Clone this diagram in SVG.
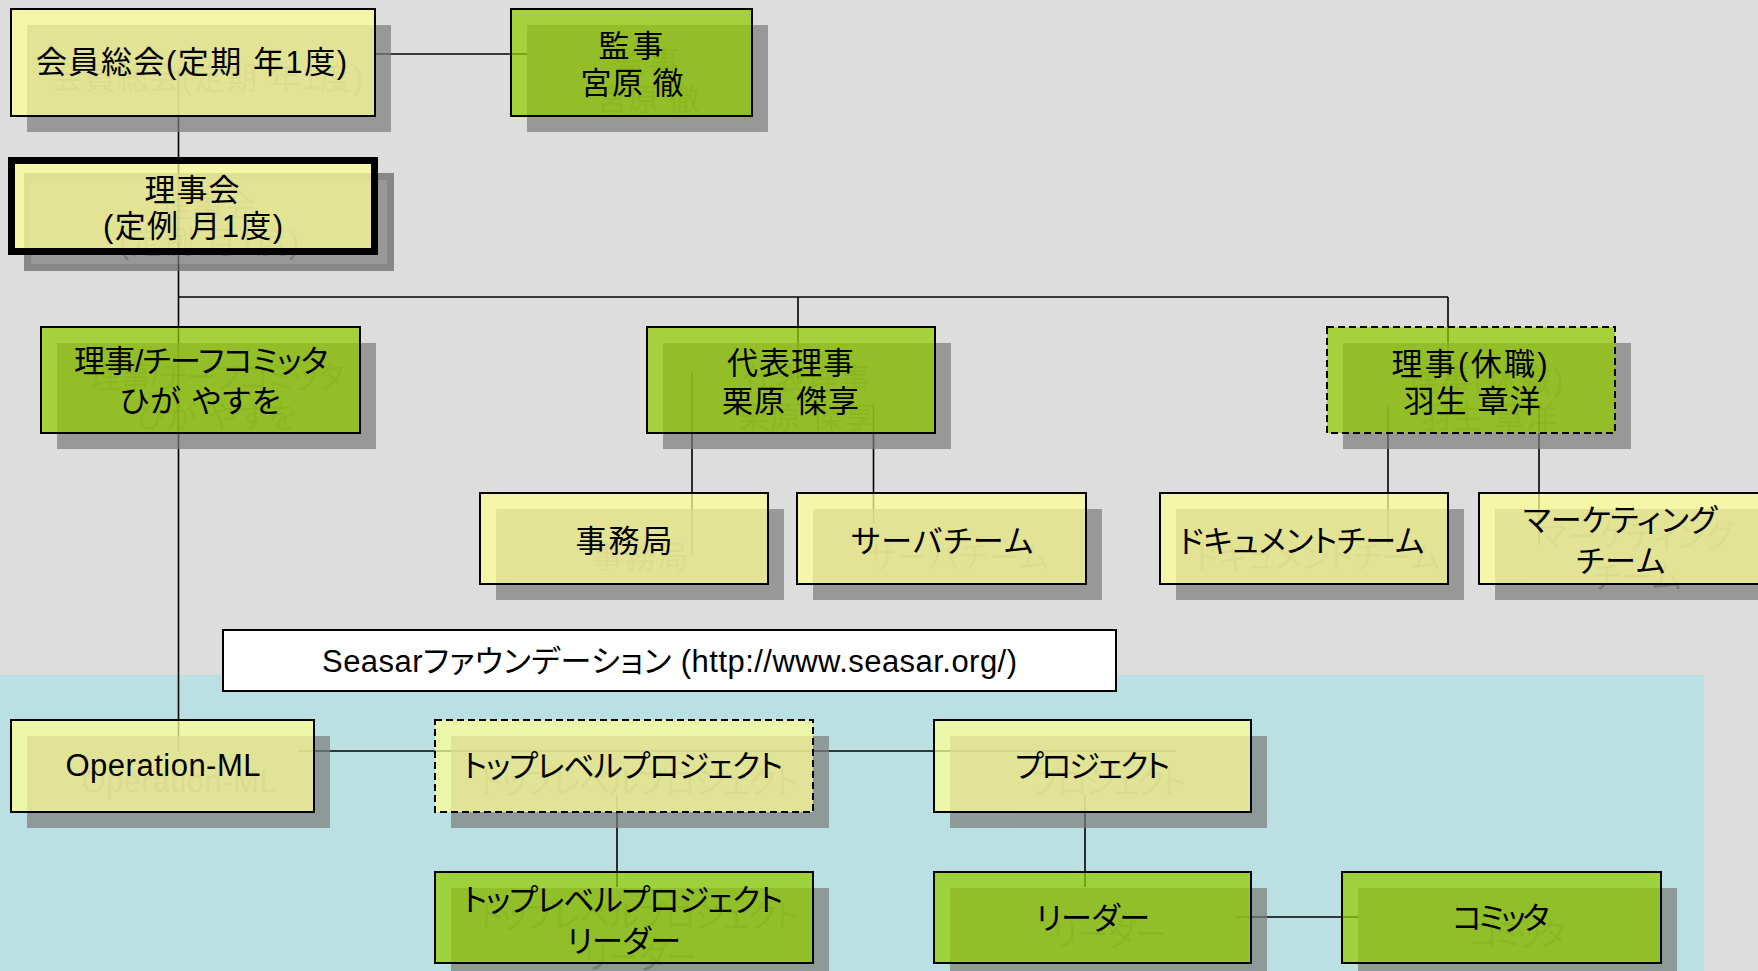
<svg xmlns="http://www.w3.org/2000/svg" xmlns:xlink="http://www.w3.org/1999/xlink" width="1758" height="971" viewBox="0 0 1758 971">
<style>
.node{fill:#000}
.sh{opacity:.71;fill:#555555}
.shr{fill:#7d7d7d}
.by{fill:#ffff95;fill-opacity:.735;stroke:#000;stroke-width:2}
.bg{fill:#92cd00;fill-opacity:.735;stroke:#000;stroke-width:2}
.dash{stroke-dasharray:7 4}
.t{font-family:"Liberation Sans","Noto Sans CJK JP",sans-serif;font-size:31px;text-anchor:middle;font-feature-settings:"palt"}
.lt{font-size:31px}
.cn line{stroke:#000;stroke-width:1.6;fill:none}
</style>
<rect x="0" y="0" width="1758" height="971" fill="#dddddd"/>
<rect x="0" y="675" width="1704" height="296" fill="#bae0e3"/>

<g id="connectors" class="cn">
  <line x1="375" y1="54" x2="527" y2="54"/>
  <line x1="178.5" y1="67" x2="178.5" y2="751"/>
  <line x1="178.5" y1="297" x2="1448" y2="297"/>
  <line x1="798" y1="297" x2="798" y2="380"/>
  <line x1="1448" y1="297" x2="1448" y2="380"/>
  <line x1="692" y1="372" x2="692" y2="555"/>
  <line x1="873.5" y1="403" x2="873.5" y2="523"/>
  <line x1="1388" y1="405" x2="1388" y2="545"/>
  <line x1="1539" y1="405" x2="1539" y2="545"/>
  <line x1="298" y1="751" x2="1176" y2="751"/>
  <line x1="617" y1="795" x2="617" y2="887"/>
  <line x1="1085" y1="795" x2="1085" y2="887"/>
  <line x1="1236" y1="917" x2="1358" y2="917"/>
</g>

<g id="n1" class="node">
  <g class="sh" transform="translate(16,16)"><rect class="shr" x="11" y="9" width="364" height="107"/><use xlink:href="#n1t"/></g>
  <rect class="by" x="11" y="9" width="364" height="107"/>
  <g id="n1t" class="t"><text x="191.5" y="73" textLength="311">会員総会(定期 年1度)</text></g>
</g>

<g id="n2" class="node">
  <g class="sh" transform="translate(16,16)"><rect class="shr" x="511" y="9" width="241" height="107"/><use xlink:href="#n2t"/></g>
  <rect class="bg" x="511" y="9" width="241" height="107"/>
  <g id="n2t" class="t"><text x="631" y="56.5" textLength="65">監事</text><text x="632" y="93.5" textLength="103">宮原 徹</text></g>
</g>

<g id="n3" class="node">
  <g class="sh" transform="translate(16,16)"><rect class="shr" x="11.5" y="160.5" width="363" height="91" stroke="#656565" stroke-width="7"/><use xlink:href="#n3t"/></g>
  <rect class="by" x="11.5" y="160.5" width="363" height="91" style="stroke-width:7"/>
  <g id="n3t" class="t"><text x="192" y="201" textLength="95">理事会</text><text x="193" y="237" textLength="180">(定例 月1度)</text></g>
</g>

<g id="n4" class="node">
  <g class="sh" transform="translate(16,16)"><rect class="shr" x="41" y="327" width="319" height="106"/><use xlink:href="#n4t"/></g>
  <rect class="bg" x="41" y="327" width="319" height="106"/>
  <g id="n4t" class="t"><text x="201" y="372" textLength="254">理事/チーフコミッタ</text><text x="200" y="411.5" textLength="161">ひが やすを</text></g>
</g>

<g id="n5" class="node">
  <g class="sh" transform="translate(16,16)"><rect class="shr" x="647" y="327" width="288" height="106"/><use xlink:href="#n5t"/></g>
  <rect class="bg" x="647" y="327" width="288" height="106"/>
  <g id="n5t" class="t"><text x="790.5" y="373.5" textLength="127">代表理事</text><text x="790.5" y="412" textLength="137">栗原 傑享</text></g>
</g>

<g id="n6" class="node">
  <g class="sh" transform="translate(16,16)"><rect class="shr" x="1327" y="327" width="288" height="106"/><use xlink:href="#n6t"/></g>
  <rect class="bg dash" x="1327" y="327" width="288" height="106"/>
  <g id="n6t" class="t"><text x="1469.5" y="375" textLength="156">理事(休職)</text><text x="1472" y="412" textLength="137">羽生 章洋</text></g>
</g>

<g id="n7" class="node">
  <g class="sh" transform="translate(16,16)"><rect class="shr" x="480" y="493" width="288" height="91"/><use xlink:href="#n7t"/></g>
  <rect class="by" x="480" y="493" width="288" height="91"/>
  <g id="n7t" class="t"><text x="624" y="552" textLength="97">事務局</text></g>
</g>

<g id="n8" class="node">
  <g class="sh" transform="translate(16,16)"><rect class="shr" x="797" y="493" width="289" height="91"/><use xlink:href="#n8t"/></g>
  <rect class="by" x="797" y="493" width="289" height="91"/>
  <g id="n8t" class="t"><text x="942" y="552" textLength="182">サーバチーム</text></g>
</g>

<g id="n9" class="node">
  <g class="sh" transform="translate(16,16)"><rect class="shr" x="1160" y="493" width="288" height="91"/><use xlink:href="#n9t"/></g>
  <rect class="by" x="1160" y="493" width="288" height="91"/>
  <g id="n9t" class="t"><text x="1301.5" y="552" textLength="245">ドキュメントチーム</text></g>
</g>

<g id="n10" class="node">
  <g class="sh" transform="translate(16,16)"><rect class="shr" x="1479" y="493" width="288" height="91"/><use xlink:href="#n10t"/></g>
  <rect class="by" x="1479" y="493" width="288" height="91"/>
  <g id="n10t" class="t"><text x="1620" y="531" textLength="194">マーケティング</text><text x="1620.5" y="572" textLength="89">チーム</text></g>
</g>

<g id="label" class="node">
  <rect x="223" y="630" width="893" height="61" fill="#ffffff" stroke="#000" stroke-width="2"/>
  <text class="t lt" x="669.5" y="671.5" textLength="695">Seasarファウンデーション (http://www.seasar.org/)</text>
</g>

<g id="n11" class="node">
  <g class="sh" transform="translate(16,16)"><rect class="shr" x="11" y="720" width="303" height="92"/><use xlink:href="#n11t"/></g>
  <rect class="by" x="11" y="720" width="303" height="92"/>
  <g id="n11t" class="t lt"><text x="163" y="776" textLength="195">Operation-ML</text></g>
</g>

<g id="n12" class="node">
  <g class="sh" transform="translate(16,16)"><rect class="shr" x="435" y="720" width="378" height="92"/><use xlink:href="#n12t"/></g>
  <rect class="by dash" x="435" y="720" width="378" height="92"/>
  <g id="n12t" class="t"><text x="623" y="777" textLength="320">トップレベルプロジェクト</text></g>
</g>

<g id="n13" class="node">
  <g class="sh" transform="translate(16,16)"><rect class="shr" x="435" y="872" width="378" height="91"/><use xlink:href="#n13t"/></g>
  <rect class="bg" x="435" y="872" width="378" height="91"/>
  <g id="n13t" class="t"><text x="623" y="911" textLength="320">トップレベルプロジェクト</text><text x="624" y="952" textLength="114">リーダー</text></g>
</g>

<g id="n14" class="node">
  <g class="sh" transform="translate(16,16)"><rect class="shr" x="934" y="720" width="317" height="92"/><use xlink:href="#n14t"/></g>
  <rect class="by" x="934" y="720" width="317" height="92"/>
  <g id="n14t" class="t"><text x="1092.5" y="777" textLength="155">プロジェクト</text></g>
</g>

<g id="n15" class="node">
  <g class="sh" transform="translate(16,16)"><rect class="shr" x="934" y="872" width="317" height="91"/><use xlink:href="#n15t"/></g>
  <rect class="bg" x="934" y="872" width="317" height="91"/>
  <g id="n15t" class="t"><text x="1093" y="929" textLength="114">リーダー</text></g>
</g>

<g id="n16" class="node">
  <g class="sh" transform="translate(16,16)"><rect class="shr" x="1342" y="872" width="319" height="91"/><use xlink:href="#n16t"/></g>
  <rect class="bg" x="1342" y="872" width="319" height="91"/>
  <g id="n16t" class="t"><text x="1501" y="929" textLength="97">コミッタ</text></g>
</g>
</svg>
